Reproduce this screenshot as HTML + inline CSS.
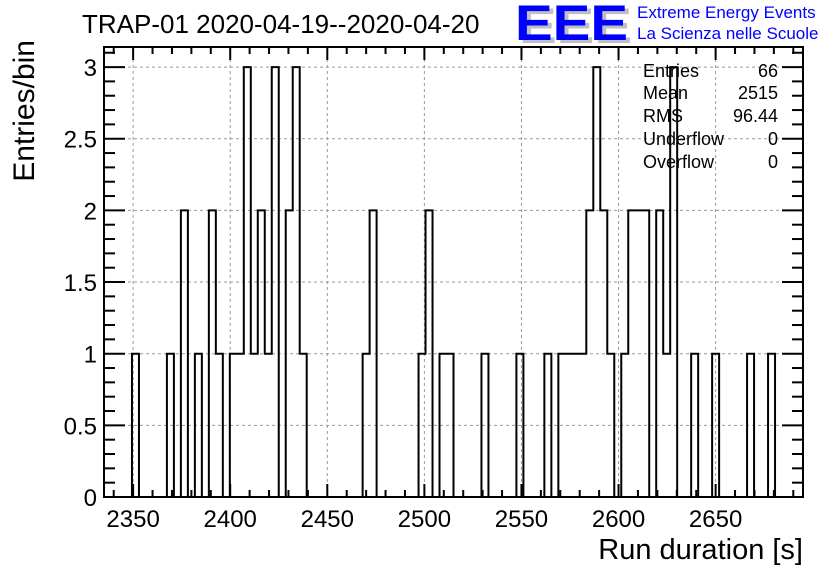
<!DOCTYPE html>
<html><head><meta charset="utf-8"><style>
body{margin:0;background:#fff}
svg{display:block;font-family:"Liberation Sans",Arial,sans-serif}
</style></head><body>
<svg id="c" width="836" height="572" viewBox="0 0 836 572">
<rect width="836" height="572" fill="#fff"/>
<text x="82" y="33" font-size="26">TRAP-01 2020-04-19--2020-04-20</text>
<g>
<text x="519" y="43" font-size="50" font-weight="bold" fill="#c0c0c0" textLength="113" lengthAdjust="spacingAndGlyphs">EEE</text>
<text x="515" y="40" font-size="50" font-weight="bold" fill="#0000ff" textLength="113" lengthAdjust="spacingAndGlyphs">EEE</text>
<text x="637" y="18" font-size="17" fill="#0000ff">Extreme Energy Events</text>
<text x="637" y="39" font-size="17" fill="#0000ff">La Scienza nelle Scuole</text>
</g>
<g id="grid"></g>
<g id="ticks"></g>
<path id="hist" fill="none" stroke="#000" stroke-width="2"/>
<rect x="104" y="47" width="699" height="450" fill="none" stroke="#000" stroke-width="2"/>
<g font-size="18">
<text x="643" y="77">Entries</text><text x="778" y="77" text-anchor="end">66</text>
<text x="643" y="99">Mean</text><text x="778" y="99" text-anchor="end">2515</text>
<text x="643" y="122">RMS</text><text x="778" y="122" text-anchor="end">96.44</text>
<text x="643" y="145">Underflow</text><text x="778" y="145" text-anchor="end">0</text>
<text x="643" y="168">Overflow</text><text x="778" y="168" text-anchor="end">0</text>
</g>
<text x="803" y="559" font-size="29" text-anchor="end">Run duration [s]</text>
<text transform="translate(34,40) rotate(-90)" font-size="30" text-anchor="end">Entries/bin</text>
</svg>
<script>
const xMin = 2335, xMax = 2695, nBins = 100;
const yMax = 3.14;
const binIndex = [4,9,11,13,15,16,18,19,20,21,22,23,24,26,27,28,37,38,45,46,48,49,54,59,63,65,66,67,68,69,70,71,72,74,75,76,77,79,80,81,84,87,92,95];
const binCount = [1,1,2,1,2,1,1,1,3,1,2,1,3,2,3,1,1,2,1,2,1,1,1,1,1,1,1,1,1,2,3,2,1,1,2,2,2,2,1,3,1,1,1,1];
const xTicks = [2350,2400,2450,2500,2550,2600,2650];
const yTicks = [0,0.5,1,1.5,2,2.5,3];
const yTickLabels = ["0","0.5","1","1.5","2","2.5","3"];
const L=104,R=803,T=47,B=497;
const sx=v=>L+(v-xMin)/(xMax-xMin)*(R-L);
const sy=v=>B-v/yMax*(B-T);
const NS="http://www.w3.org/2000/svg";
const grid=document.getElementById('grid'), tk=document.getElementById('ticks');
function line(p,x1,y1,x2,y2,st,dash,name){const l=document.createElementNS(NS,'line');
l.setAttribute('x1',x1);l.setAttribute('y1',y1);l.setAttribute('x2',x2);l.setAttribute('y2',y2);
l.setAttribute('stroke',st);l.setAttribute('stroke-width',dash?1:2);if(dash)l.setAttribute('stroke-dasharray','3,3');


p.appendChild(l);}
function text(x,y,s,anchor,name){const t=document.createElementNS(NS,'text');t.setAttribute('x',x);t.setAttribute('y',y);
t.setAttribute('font-size','24');t.setAttribute('text-anchor',anchor);t.textContent=s;


tk.appendChild(t);}
xTicks.forEach(v=>{const x=sx(v);line(grid,x,T,x,B,'#999',true,'x-grid-line');text(x,527,String(v),'middle','x-tick-label');});
yTicks.forEach((v,i)=>{const y=sy(v);if(v>0)line(grid,L,y,R,y,'#999',true,'y-grid-line');text(97,y+9,yTickLabels[i],'end','y-tick-label');});
for(let v=2340;v<=2690;v+=10){const x=sx(v),m=v%50==0;const h=m?13:7;
line(tk,x,B,x,B-h,'#000',false,'x-tick');line(tk,x,T,x,T+h,'#000',false,'x-tick-top');}
for(let v=0;v<=3.1001;v+=0.1){const y=sy(v),m=Math.abs(v*2-Math.round(v*2))<1e-6;const h=m?21:11;
line(tk,L,y,L+h,y,'#000',false,'y-tick');line(tk,R,y,R-h,y,'#000',false,'y-tick-right');}
const counts=new Array(nBins).fill(0);binIndex.forEach((b,i)=>counts[b]=binCount[i]);
const w=(xMax-xMin)/nBins;let d='M'+sx(xMin)+','+sy(0);
for(let i=0;i<nBins;i++){const x0=sx(xMin+i*w),x1=sx(xMin+(i+1)*w),y=sy(counts[i]);d+=' L'+x0+','+y+' L'+x1+','+y;}
d+=' L'+sx(xMax)+','+sy(0);
document.getElementById('hist').setAttribute('d',d);
</script>
</body></html>
